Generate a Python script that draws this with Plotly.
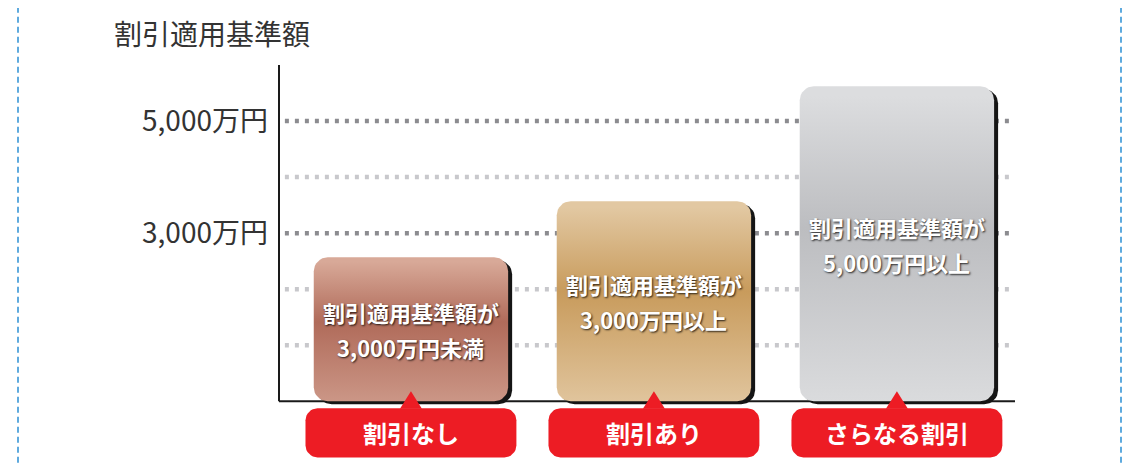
import numpy as np
import plotly.graph_objects as go

# data (万円)
categories = ["割引なし", "割引あり", "さらなる割引"]
base_amount = [2570, 3570, 5620]
bar_line1 = ["割引適用基準額が", "割引適用基準額が", "割引適用基準額が"]
bar_line2 = ["3,000万円未満", "3,000万円以上", "5,000万円以上"]
tick_vals = [3000, 5000]
tick_text = ["3,000万円", "5,000万円"]
grid_vals = [1000, 2000, 3000, 4000, 5000]
grid_major = [3000, 5000]

top_colors = ["#d8a998", "#e2c8a2", "#dcdddf"]
mid_colors = ["#b06b5a", "#c89b5c", "#bcbdc0"]
bottom_colors = ["#cb9686", "#e0c49c", "#dadbdd"]

X_RANGE = [-0.543, 2.486]
Y_RANGE = [-1100, 6000]
W, H = 1132, 464
# page body has an 8px margin, so pull everything up/left by 8px
M = dict(l=271, r=125, t=57, b=9)
PW = W - M["l"] - M["r"]
PH = H - M["t"] - M["b"]
px_x = (X_RANGE[1] - X_RANGE[0]) / PW
px_y = (Y_RANGE[1] - Y_RANGE[0]) / PH


def rounded_rect(x0, x1, y0, y1, r_px, n=8):
    rx, ry = r_px * px_x, r_px * px_y
    xs, ys = [], []
    corners = [(x1 - rx, y1 - ry, 0), (x0 + rx, y1 - ry, 90),
               (x0 + rx, y0 + ry, 180), (x1 - rx, y0 + ry, 270)]
    for cx, cy, a0 in corners:
        for k in range(n + 1):
            a = np.radians(a0 + 90 * k / n)
            xs.append(cx + rx * np.cos(a))
            ys.append(cy + ry * np.sin(a))
    xs.append(xs[0])
    ys.append(ys[0])
    return xs, ys


fig = go.Figure()
half_w = 0.4
label_half = 0.434

for i, v in enumerate(base_amount):
    # drop shadow
    sx, sy = rounded_rect(i - half_w + 4 * px_x, i + half_w + 4 * px_x,
                          -3 * px_y, v - 3 * px_y, 14)
    fig.add_trace(go.Scatter(x=sx, y=sy, fill="toself", mode="lines",
                             line=dict(width=0), fillcolor="#151515",
                             hoverinfo="skip", showlegend=False))
    bx, by = rounded_rect(i - half_w, i + half_w, 0, v, 14)
    fig.add_trace(go.Scatter(
        x=bx, y=by, fill="toself", mode="lines", line=dict(width=0),
        fillgradient=dict(type="vertical",
                          colorscale=[[0, bottom_colors[i]], [0.55, mid_colors[i]],
                                      [0.97, top_colors[i]], [1, top_colors[i]]]),
        hoverinfo="skip", showlegend=False))

for i, cat in enumerate(categories):
    lx, ly = rounded_rect(i - label_half, i + label_half, -1000, -125, 12)
    fig.add_trace(go.Scatter(x=lx, y=ly, fill="toself", mode="lines",
                             line=dict(width=0), fillcolor="#ed1c24",
                             hoverinfo="skip", showlegend=False))
    fig.add_trace(go.Scatter(x=[i - 11 * px_x, i + 11 * px_x, i, i - 11 * px_x],
                             y=[-130, -130, 10 * px_y, -130],
                             fill="toself", mode="lines", line=dict(width=0),
                             fillcolor="#ed1c24", hoverinfo="skip", showlegend=False))
    fig.add_annotation(x=i, y=-562, text=cat, showarrow=False,
                       font=dict(family="Noto Sans CJK JP", size=24, color="white",
                                 weight="bold"))
    for line, shift in [(bar_line1[i], 17), (bar_line2[i], -18)]:
        fig.add_annotation(x=i, y=base_amount[i] / 2, text=line, showarrow=False,
                           yshift=shift,
                           font=dict(family="Noto Sans CJK JP", size=22, color="white",
                                     weight="bold",
                                     shadow="1px 1px 2px rgba(0,0,0,0.8)"))

# dotted grid
for g in grid_vals:
    fig.add_shape(type="line", xref="paper", x0=0.008, x1=0.992, y0=g, y1=g,
                  layer="below",
                  line=dict(color="#8c8c90" if g in grid_major else "#c8c8cc",
                            width=4.5, dash="4px,6px"))

# axes drawn by hand
fig.add_shape(type="line", xref="paper", x0=0, x1=0, y0=0, y1=6000,
              line=dict(color="#1a1a1a", width=2))
fig.add_shape(type="line", xref="paper", x0=0, x1=1, y0=0, y1=0,
              layer="below", line=dict(color="#1a1a1a", width=2))

# dashed blue frame
for xpx in [10, 1113]:
    xp = (xpx - M["l"]) / PW
    fig.add_shape(type="line", xref="paper", yref="paper", x0=xp, x1=xp,
                  y0=-0.1, y1=1.3, line=dict(color="#2a8fd4", width=1.5, dash="6px,4px"))

fig.add_annotation(xref="paper", yref="paper", x=(104 - M["l"]) / PW,
                   y=1 + 32 / PH, xanchor="left", yanchor="middle",
                   text="割引適用基準額", showarrow=False,
                   font=dict(family="Noto Sans CJK JP", size=28, color="#333333"))

fig.update_layout(
    width=W, height=H, margin=M,
    plot_bgcolor="white", paper_bgcolor="white",
    xaxis=dict(range=X_RANGE, showgrid=False, zeroline=False, showticklabels=False,
               showline=False, fixedrange=True),
    yaxis=dict(range=Y_RANGE, showgrid=False, zeroline=False, showline=False,
               tickvals=tick_vals, ticktext=tick_text, ticks="", ticklabelstandoff=10,
               tickfont=dict(family="Noto Sans CJK JP", size=28, color="#333333"),
               fixedrange=True),
    showlegend=False,
)

fig.write_html("out.html")
